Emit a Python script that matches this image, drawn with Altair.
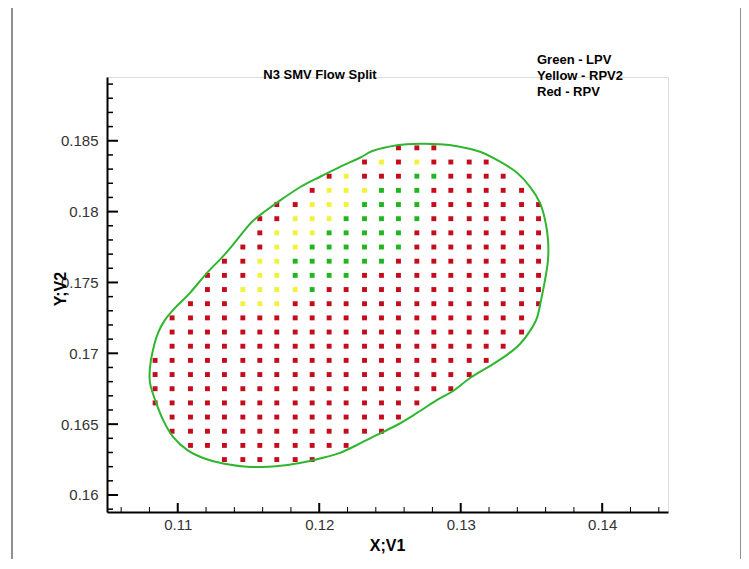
import altair as alt
import pandas as pd

# ---- data ----
col_x = [0.1084, 0.1096, 0.1109, 0.1121, 0.1133, 0.1146, 0.1158, 0.1170,
         0.1183, 0.1195, 0.1207, 0.1219, 0.1232, 0.1244, 0.1256, 0.1269,
         0.1281, 0.1293, 0.1306, 0.1318, 0.1330, 0.1343, 0.1355]
row_y = [0.1625, 0.1635, 0.1645, 0.1655, 0.1665, 0.1675, 0.1685, 0.1695,
         0.1705, 0.1715, 0.1725, 0.1735, 0.1745, 0.1755, 0.1765, 0.1775,
         0.1785, 0.1795, 0.1805, 0.1815, 0.1825, 0.1835, 0.1845]
# one code string per row (bottom to top), one char per column: R red, Y yellow, G green, . none
row_codes = [
    "....RRRRRR.............",
    "..RRRRRRRRRR...........",
    ".RRRRRRRRRRRRR.........",
    ".RRRRRRRRRRRRRR........",
    "RRRRRRRRRRRRRRRR.......",
    "RRRRRRRRRRRRRRRRRR.....",
    "RRRRRRRRRRRRRRRRRRR....",
    "RRRRRRRRRRRRRRRRRRRR...",
    ".RRRRRRRRRRRRRRRRRRRR..",
    ".RRRRRRRRRRRRRRRRRRRRR.",
    ".RRRRRRRRRRRRRRRRRRRRR.",
    "..RRRYYYRRRRRRRRRRRRRRR",
    "...RRYYYYGRRRRRRRRRRRRR",
    "...RRRYYGGGGRRRRRRRRRRR",
    "....RRYYGGGGGGRRRRRRRRR",
    ".....RRYYGGGGGGRRRRRRRR",
    "......RYYYGGGGGRRRRRRRR",
    "......RRYYYGGGGGRRRRRRR",
    ".......RRYYYGGGGRRRRRRR",
    ".........RYYYGGGRRRRRR.",
    "..........RYRRRGGRRRR..",
    "............RYRYRRRR...",
    "..............RRR......",
]

curve_x = [0.10896, 0.10840, 0.10804, 0.10804, 0.10825, 0.10861, 0.10910, 0.10981,
           0.11087, 0.11207, 0.11313, 0.11398, 0.11469, 0.11532, 0.11617, 0.11709,
           0.11864, 0.12006, 0.12147, 0.12288, 0.12380, 0.12550, 0.12712, 0.12854,
           0.12974, 0.13136, 0.13278, 0.13398, 0.13490, 0.13560, 0.13596, 0.13617,
           0.13617, 0.13596, 0.13568, 0.13539, 0.13490, 0.13419, 0.13327, 0.13207,
           0.13066, 0.12946, 0.12833, 0.12691, 0.12550, 0.12380, 0.12267, 0.12147,
           0.12048, 0.11935, 0.11744, 0.11511, 0.11320, 0.11179, 0.11066, 0.10967]
curve_y = [0.16530, 0.16671, 0.16791, 0.16904, 0.17024, 0.17144, 0.17236, 0.17321,
           0.17427, 0.17568, 0.17677, 0.17776, 0.17864, 0.17935, 0.18002, 0.18069,
           0.18172, 0.18246, 0.18316, 0.18380, 0.18429, 0.18468, 0.18479, 0.18475,
           0.18461, 0.18422, 0.18352, 0.18274, 0.18175, 0.18062, 0.17942, 0.17801,
           0.17660, 0.17518, 0.17377, 0.17250, 0.17158, 0.17066, 0.16989, 0.16911,
           0.16826, 0.16734, 0.16671, 0.16579, 0.16494, 0.16410, 0.16353, 0.16297,
           0.16268, 0.16240, 0.16208, 0.16198, 0.16222, 0.16261, 0.16318, 0.16410]

x_major = [0.11, 0.12, 0.13, 0.14]
x_minor = [0.106, 0.108, 0.112, 0.114, 0.116, 0.118, 0.122, 0.124, 0.126, 0.128,
           0.132, 0.134, 0.136, 0.138, 0.142, 0.144]
y_major = [0.16, 0.165, 0.17, 0.175, 0.18, 0.185]
y_minor = [0.159, 0.161, 0.162, 0.163, 0.164, 0.166, 0.167, 0.168, 0.169,
           0.171, 0.172, 0.173, 0.174, 0.176, 0.177, 0.178, 0.179,
           0.181, 0.182, 0.183, 0.184, 0.186, 0.187, 0.188, 0.189]

title_text = "N3 SMV Flow Split"
legend_lines = ["Green - LPV", "Yellow - RPV2", "Red - RPV"]
x_title = "X;V1"
y_title = "Y;V2"

# ---- build tables ----
dots = []
for j, codes in enumerate(row_codes):
    for k, c in enumerate(codes):
        if c != "." and k < len(col_x):
            dots.append({"x": col_x[k], "y": row_y[j], "c": c})
dots_df = pd.DataFrame(dots)
curve_df = pd.DataFrame({"x": curve_x, "y": curve_y, "i": list(range(len(curve_x)))})

W, H = 561, 435
FONT = "Liberation Sans"
xs = alt.Scale(domain=[0.105, 0.14465], nice=False, zero=False)
ys = alt.Scale(domain=[0.1588, 0.1895], nice=False, zero=False)

axis_common = dict(domain=True, domainColor="black", domainWidth=2, ticks=False,
                   grid=False, labelFont=FONT, labelFontSize=15, labelColor="#333333",
                   title=None)

dots_layer = alt.Chart(dots_df).mark_square(size=24, opacity=1).encode(
    x=alt.X("x:Q", scale=xs, axis=alt.Axis(values=x_major, format=".2~f", labelPadding=5, **axis_common)),
    y=alt.Y("y:Q", scale=ys, axis=alt.Axis(values=y_major, format=".3~f", labelPadding=9, **axis_common)),
    color=alt.Color("c:N", scale=alt.Scale(domain=["R", "Y", "G"],
                                           range=["#c40c1c", "#f2f23c", "#22b522"]), legend=None),
)

curve_layer = alt.Chart(curve_df).mark_line(
    interpolate="cardinal-closed", color="#2fb52f", strokeWidth=2
).encode(
    x=alt.X("x:Q", scale=xs),
    y=alt.Y("y:Q", scale=ys),
    order=alt.Order("i:Q"),
)

ymaj = alt.Chart(pd.DataFrame({"v": y_major})).mark_rule(color="black", strokeWidth=2).encode(
    y=alt.Y("v:Q", scale=ys), x=alt.value(0), x2=alt.value(11))
ymin = alt.Chart(pd.DataFrame({"v": y_minor})).mark_rule(color="black", strokeWidth=1.5).encode(
    y=alt.Y("v:Q", scale=ys), x=alt.value(0), x2=alt.value(6))
xmaj = alt.Chart(pd.DataFrame({"v": x_major})).mark_rule(color="black", strokeWidth=2).encode(
    x=alt.X("v:Q", scale=xs), y=alt.value(H), y2=alt.value(H - 9))
xmin = alt.Chart(pd.DataFrame({"v": x_minor})).mark_rule(color="black", strokeWidth=1).encode(
    x=alt.X("v:Q", scale=xs), y=alt.value(H), y2=alt.value(H - 5))

def label(text, x, y, size, align="left", angle=0):
    kw = dict(font=FONT, fontSize=size, fontWeight="bold", color="black",
              align=align, baseline="middle")
    if angle:
        kw["angle"] = angle
    return alt.Chart(pd.DataFrame({"t": [text]})).mark_text(**kw).encode(
        text="t:N", x=alt.value(x), y=alt.value(y))

title_layer = label(title_text, 213, -2, 13, align="center")
legend_layers = [label(t, 430, yy, 13) for t, yy in zip(legend_lines, [-17, -1, 15])]
xt_layer = label(x_title, W / 2, 469, 16, align="center")
yt_layer = label(y_title, -46, 212, 16, align="center", angle=270)

frame_left = alt.Chart(pd.DataFrame({"t": [0]})).mark_rule(color="#222222", strokeWidth=1).encode(
    x=alt.value(-95), y=alt.value(-69), y2=alt.value(482))
frame_right = alt.Chart(pd.DataFrame({"t": [0]})).mark_rule(color="#222222", strokeWidth=1).encode(
    x=alt.value(634), y=alt.value(-69), y2=alt.value(482))

chart = alt.layer(
    dots_layer, curve_layer, ymaj, ymin, xmaj, xmin,
    title_layer, *legend_layers, xt_layer, yt_layer, frame_left, frame_right
).properties(
    width=W, height=H,
    autosize=alt.AutoSizeParams(type="none"),
    padding={"left": 99, "top": 69, "right": 73, "bottom": 47},
).configure_view(stroke=None).configure(background="white")

chart.save("out.html", embed_options={"renderer": "svg", "actions": False})
